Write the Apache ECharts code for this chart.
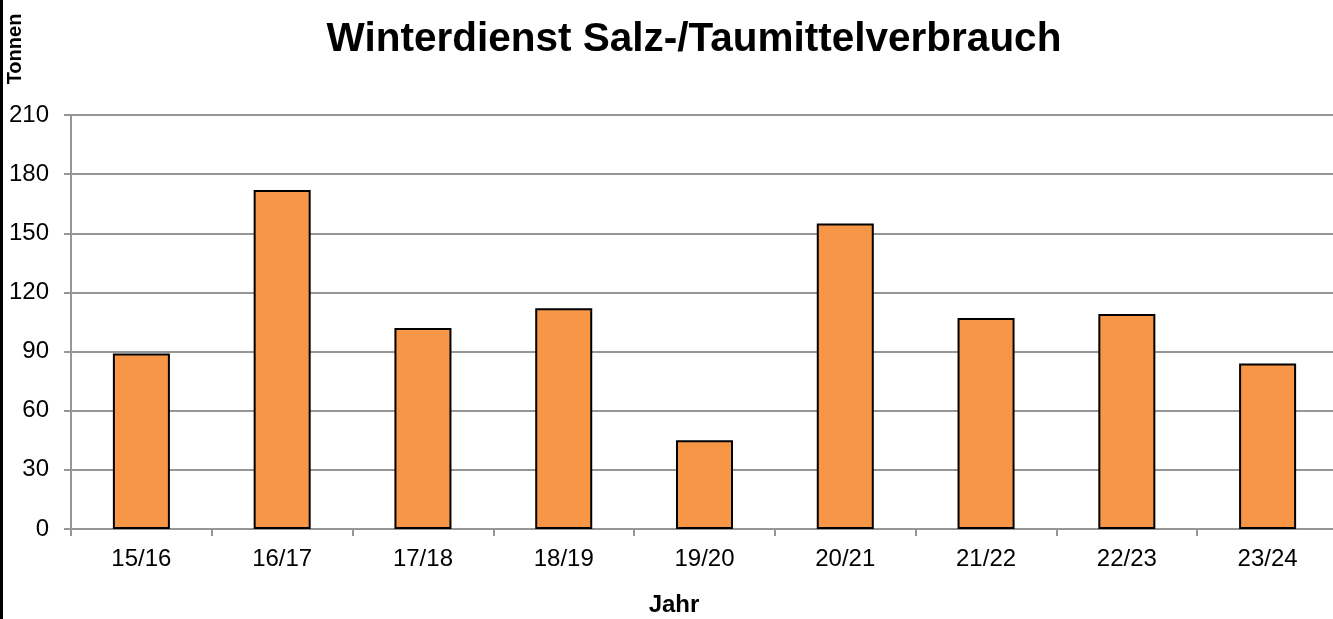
<!DOCTYPE html>
<html>
<head>
    <meta charset="utf-8">
    <title>Winterdienst Salz-/Taumittelverbrauch</title>
    <script src="https://cdn.jsdelivr.net/npm/echarts@6/dist/echarts.min.js"></script>
    <style>
        html, body { margin: 0; padding: 0; background: #fff; overflow: hidden; }
        #main { width: 1345px; height: 619px; border-left: 3px solid #000; }
    </style>
</head>
<body>
<div id="main"></div>
<script type="text/javascript">
    // Daten
    var seasons = ['15/16', '16/17', '17/18', '18/19', '19/20', '20/21', '21/22', '22/23', '23/24'];
    var tonnen = [89, 172, 102, 112, 45, 155, 107, 109, 84];
    var yTicks = [0, 30, 60, 90, 120, 150, 180, 210];

    var myChart = echarts.init(document.getElementById('main'));

    var font = '"Liberation Sans", Arial, sans-serif';

    var option = {
        animation: false,
        title: {
            text: 'Winterdienst Salz-/Taumittelverbrauch',
            left: 686,
            textAlign: 'center',
            top: 14,
            textStyle: { fontFamily: font, fontSize: 40.5, fontWeight: 'bold', color: '#000' }
        },
        graphic: [{
            type: 'text',
            x: 12,
            y: 49,
            rotation: Math.PI / 2,
            style: { text: 'Tonnen', font: 'bold 20px ' + font, fill: '#000', align: 'center', verticalAlign: 'middle' }
        }, {
            type: 'text',
            x: 671,
            y: 605,
            style: { text: 'Jahr', font: 'bold 24px ' + font, fill: '#000', align: 'center', verticalAlign: 'middle' }
        }],
        grid: { left: 68, right: 10, top: 115, bottom: 90 },
        xAxis: {
            type: 'category',
            data: seasons,
            axisLine: { lineStyle: { color: '#969696', width: 2 } },
            axisTick: { show: true, length: 7, lineStyle: { color: '#969696', width: 2 } },
            axisLabel: { fontFamily: font, fontSize: 24, color: '#000', margin: 18 }
        },
        yAxis: {
            type: 'value',
            min: yTicks[0],
            max: yTicks[yTicks.length - 1],
            interval: 30,
            axisLine: { show: true, lineStyle: { color: '#969696', width: 2 } },
            axisTick: { show: true, length: 7, lineStyle: { color: '#969696', width: 2 } },
            axisLabel: { fontFamily: font, fontSize: 24, color: '#000', margin: 22 },
            splitLine: { lineStyle: { color: '#969696', width: 2 } }
        },
        series: [{
            name: 'Tonnen',
            type: 'bar',
            data: tonnen,
            barWidth: '40.5%',
            itemStyle: { color: '#f79646', borderColor: '#000', borderWidth: 2 }
        }]
    };

    myChart.setOption(option);
</script>
</body>
</html>
